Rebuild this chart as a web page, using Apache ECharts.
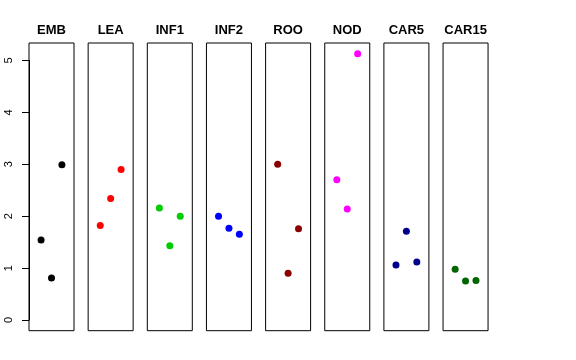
<!DOCTYPE html>
<html>
<head>
<meta charset="utf-8">
<script src="https://cdn.jsdelivr.net/npm/echarts@6/dist/echarts.min.js"></script>
<style>html,body{margin:0;padding:0;background:#fff}#c{width:576px;height:360px}</style>
</head>
<body>
<div id="c"></div>
<script>
var categories = ["EMB", "LEA", "INF1", "INF2", "ROO", "NOD", "CAR5", "CAR15"];
var colors = ["#000000", "#FF0000", "#00CD00", "#0000FF", "#8B0000", "#FF00FF", "#00008B", "#006400"];
var xPositions = [1, 2, 3];
var EMB = [1.54, 0.81, 2.99];
var LEA = [1.82, 2.34, 2.90];
var INF1 = [2.16, 1.43, 2.00];
var INF2 = [2.00, 1.77, 1.65];
var ROO = [3.00, 0.90, 1.76];
var NOD = [2.70, 2.14, 5.13];
var CAR5 = [1.06, 1.71, 1.12];
var CAR15 = [0.98, 0.75, 0.76];
var yTicks = [0, 1, 2, 3, 4, 5];

var values = [EMB, LEA, INF1, INF2, ROO, NOD, CAR5, CAR15];

var chart = echarts.init(document.getElementById('c'), null, {renderer: 'canvas'});
var panelLeft0 = 29, panelStep = 59.15, panelW = 45, panelTop = 43, panelH = 287.7;
var yMin = -0.205, yMax = 5.335;
var grids = [], xAxes = [], yAxes = [], series = [], titles = [];
categories.forEach(function (name, i) {
  var left = panelLeft0 + panelStep * i;
  grids.push({left: left, top: panelTop, width: panelW, height: panelH, show: true,
    borderColor: '#000', borderWidth: 1, backgroundColor: 'transparent'});
  xAxes.push({type: 'value', gridIndex: i, min: -0.16, max: 4.16, show: false});
  yAxes.push({type: 'value', gridIndex: i, min: yMin, max: yMax, show: false});
  series.push({type: 'scatter', xAxisIndex: i, yAxisIndex: i, symbolSize: 7,
    itemStyle: {color: colors[i], opacity: 1},
    data: values[i].map(function (v, k) { return [xPositions[k], v]; })});
  titles.push({text: name, left: left + panelW / 2, top: 24, textAlign: 'center', padding: 0,
    textStyle: {fontFamily: 'Liberation Sans, Arial, sans-serif', fontWeight: 'bold', fontSize: 13, color: '#000'}});
});
// axis grid: spans value 0..5 exactly
var pxPerUnit = panelH / (yMax - yMin);
var axTop = panelTop + (yMax - 5) * pxPerUnit;
var axH = 5 * pxPerUnit;
grids.push({left: panelLeft0, top: axTop, width: panelW, height: axH, show: false});
xAxes.push({type: 'value', gridIndex: 8, show: false, min: 0, max: 1});
yAxes.push({type: 'value', gridIndex: 8, min: 0, max: 5, interval: 1, position: 'left',
  axisLine: {show: true, lineStyle: {color: '#000', width: 1}},
  axisTick: {show: true, length: 7, lineStyle: {color: '#000'}},
  splitLine: {show: false},
  axisLabel: {show: true, rotate: 90, margin: 15, color: '#000', fontSize: 11,
    fontFamily: 'Liberation Sans, Arial, sans-serif',
    formatter: function (v) { return yTicks.indexOf(v) >= 0 ? String(v) : ''; }}});

chart.setOption({
  animation: false,
  backgroundColor: '#fff',
  title: titles,
  grid: grids,
  xAxis: xAxes,
  yAxis: yAxes,
  series: series
});
</script>
</body>
</html>
